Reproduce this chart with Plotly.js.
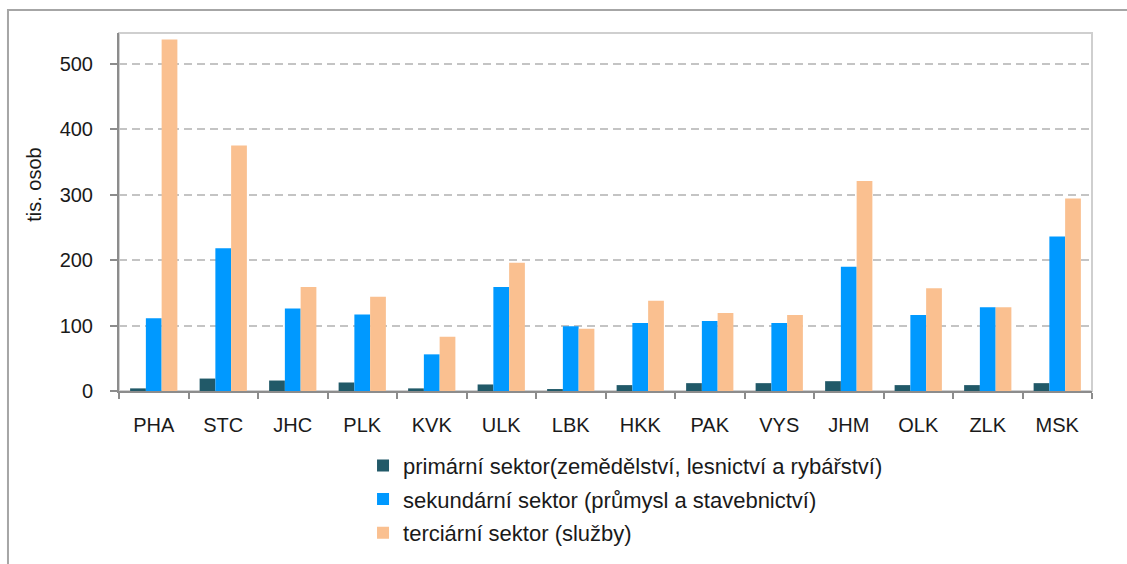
<!DOCTYPE html>
<html>
<head>
<meta charset="utf-8">
<script src="https://cdn.plot.ly/plotly-3.0.1.min.js"></script>
<style>html,body{margin:0;padding:0;background:#fff;}#chart{width:1127px;height:564px;}</style>
</head>
<body>
<div id="chart"></div>
<script>
const categories = ["PHA","STC","JHC","PLK","KVK","ULK","LBK","HKK","PAK","VYS","JHM","OLK","ZLK","MSK"];
const primary   = [4, 19, 16, 13, 4, 10, 3, 9, 12, 12, 15, 9, 9, 12];
const secondary = [111, 218, 126, 117, 56, 159, 99, 104, 107, 104, 190, 116, 128, 236];
const tertiary  = [537, 375, 159, 144, 83, 196, 95, 138, 119, 116, 321, 157, 128, 294];
const seriesNames = [
  "primární sektor(zemědělství, lesnictví a rybářství)",
  "sekundární sektor (průmysl a stavebnictví)",
  "terciární sektor (služby)"
];
const yTitle = "tis. osob";

const colors = ["#215968", "#0099FF", "#FAC090"];
const font = "Liberation Sans, Arial, sans-serif";

const traces = [primary, secondary, tertiary].map((vals, i) => ({
  type: "bar",
  x: categories,
  y: vals,
  name: seriesNames[i],
  legendgroup: "g" + i,
  marker: {color: colors[i], line: {width: 0}},
  hoverinfo: "x+y"
}));

const layout = {
  width: 1127, height: 564,
  margin: {l: 119, r: 35, t: 33, b: 173, autoexpand: false},
  paper_bgcolor: "#ffffff",
  plot_bgcolor: "#ffffff",
  barmode: "group",
  bargap: 0.32,
  bargroupgap: 0,
  font: {family: font, size: 20, color: "#1a1a1a"},
  showlegend: true,
  legend: {
    xref: "paper", yref: "paper",
    x: 0.2508, y: -0.15, xanchor: "left", yanchor: "top",
    orientation: "v",
    font: {family: font, size: 22, color: "#1a1a1a"},
    tracegroupgap: 2,
    bgcolor: "rgba(0,0,0,0)",
    itemclick: false
  },
  xaxis: {
    type: "category",
    showline: true, linecolor: "#8c8c8c", linewidth: 2,
    ticks: "outside", tickson: "boundaries", ticklen: 6, tickwidth: 2, tickcolor: "#8c8c8c",
    tickfont: {family: font, size: 20, color: "#1a1a1a"},
    tickangle: 0,
    ticklabelstandoff: 15,
    showgrid: false, zeroline: false, fixedrange: true
  },
  yaxis: {
    range: [0, 547],
    tickvals: [0, 100, 200, 300, 400, 500],
    showline: true, linecolor: "#8c8c8c", linewidth: 2,
    ticks: "outside", ticklen: 7, tickwidth: 2, tickcolor: "#8c8c8c",
    tickfont: {family: font, size: 20, color: "#1a1a1a"},
    ticklabelstandoff: 13,
    showgrid: true, gridcolor: "#c4c4c4", gridwidth: 2, griddash: "8px,5px",
    zeroline: false, fixedrange: true
  },
  shapes: [
    {type: "rect", xref: "paper", yref: "paper", x0: 0, x1: 1, y0: 0, y1: 1,
     line: {color: "#cfcfcf", width: 2}, layer: "below"},
    {type: "rect", xref: "paper", yref: "paper", x0: -0.1141, x1: 1.1, y0: -0.6, y1: 1.0642,
     line: {color: "#a6a6a6", width: 2}, layer: "below"}
  ],
  annotations: [
    {text: yTitle, xref: "paper", yref: "paper", x: -0.087, y: 0.577,
     xanchor: "center", yanchor: "middle", textangle: -90, showarrow: false,
     font: {family: font, size: 20, color: "#1a1a1a"}}
  ]
};

Plotly.newPlot("chart", traces, layout, {displayModeBar: false, staticPlot: true});
</script>
</body>
</html>
